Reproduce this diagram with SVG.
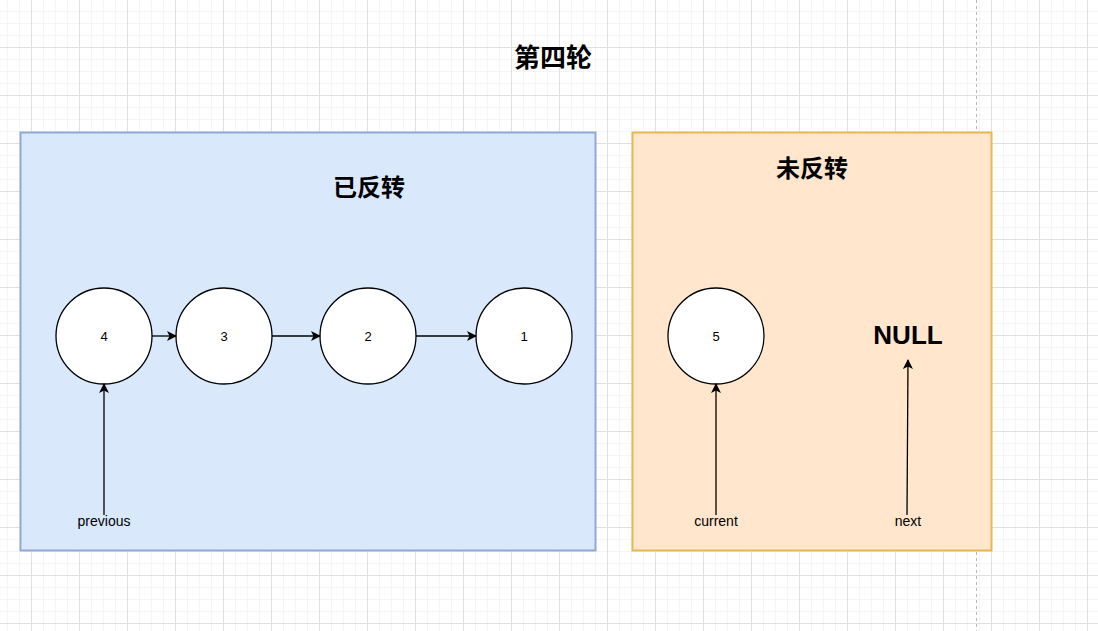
<svg xmlns="http://www.w3.org/2000/svg" width="1098" height="631" viewBox="0 0 1098 631">
<defs>
<pattern id="minor" width="12" height="12" patternUnits="userSpaceOnUse" x="7" y="11">
<path d="M0 0.5H12M0.5 0V12" fill="none" stroke="#f5f5f5" stroke-width="1"/>
</pattern>
<pattern id="major" width="48" height="48" patternUnits="userSpaceOnUse" x="31" y="47">
<path d="M0 0.5H48M0.5 0V48" fill="none" stroke="#e0e0e0" stroke-width="1"/>
</pattern>
<marker id="arr" viewBox="0 0 10 10" refX="9" refY="5" markerWidth="10" markerHeight="10" markerUnits="userSpaceOnUse" orient="auto">
<path d="M0 0L10 5L0 10L2.5 5Z" fill="#000"/>
</marker>
</defs>
<style>
.node{fill:#fff;stroke:#000;stroke-width:1.3}
.lbl{font-family:"Liberation Sans",Arial,sans-serif;font-size:14px;fill:#000;text-anchor:middle;dominant-baseline:central}
.num{font-size:13px}
.title{font-family:"Liberation Sans","Noto Sans CJK SC",sans-serif;font-weight:bold;text-anchor:middle;dominant-baseline:central;fill:#000}
.conn{stroke:#000;stroke-width:1.3;fill:none;marker-end:url(#arr)}
</style>
<rect width="1098" height="631" fill="#fff"/>
<rect width="1098" height="631" fill="url(#minor)"/>
<rect width="1098" height="631" fill="url(#major)"/>
<line x1="976.5" y1="0" x2="976.5" y2="631" stroke="#b8b8b8" stroke-dasharray="3 3"/>
<g id="title"><text class="title" x="553" y="58" font-size="26">第四轮</text></g>
<g id="reversed">
<rect x="20.5" y="132.5" width="575" height="418" fill="#dae8fc" stroke="#8eaad7" stroke-width="2"/>
<text class="title" x="369" y="187" font-size="24">已反转</text>
</g>
<g id="unreversed">
<rect x="632.5" y="132.5" width="359" height="418" fill="#ffe6cc" stroke="#e6b84f" stroke-width="2"/>
<text class="title" x="812" y="168" font-size="24">未反转</text>
</g>
<g id="n4"><circle class="node" cx="104" cy="336" r="48"/><text class="lbl num" x="104" y="336">4</text></g>
<g id="n3"><circle class="node" cx="224" cy="336" r="48"/><text class="lbl num" x="224" y="336">3</text></g>
<g id="n2"><circle class="node" cx="368" cy="336" r="48"/><text class="lbl num" x="368" y="336">2</text></g>
<g id="n1"><circle class="node" cx="524" cy="336" r="48"/><text class="lbl num" x="524" y="336">1</text></g>
<g id="n5"><circle class="node" cx="716" cy="336" r="48"/><text class="lbl num" x="716" y="336">5</text></g>
<g id="null"><text class="title" x="908" y="335" font-size="26">NULL</text></g>
<g id="connectors">
<line class="conn" x1="152" y1="336" x2="176" y2="336"/>
<line class="conn" x1="272" y1="336" x2="320" y2="336"/>
<line class="conn" x1="416" y1="336" x2="476" y2="336"/>
<line class="conn" x1="104" y1="515" x2="104" y2="384"/>
<line class="conn" x1="716" y1="515" x2="716" y2="384"/>
<line class="conn" x1="907" y1="515" x2="908" y2="360"/>
</g>
<g id="lbl-previous"><text class="lbl" x="104" y="521">previous</text></g>
<g id="lbl-current"><text class="lbl" x="716" y="521">current</text></g>
<g id="lbl-next"><text class="lbl" x="908" y="521">next</text></g>
</svg>
